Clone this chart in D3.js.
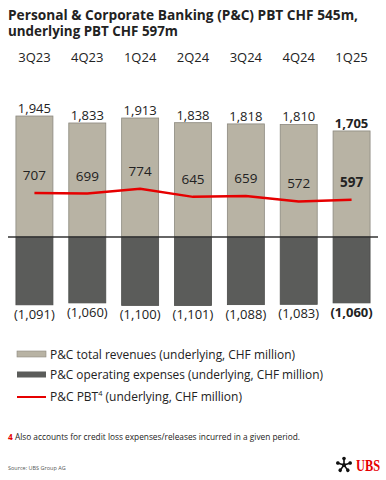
<!DOCTYPE html>
<html>
<head>
<meta charset="utf-8">
<script src="https://cdn.jsdelivr.net/npm/d3@7"></script>
<style>
  body { margin: 0; background: #fff; }
  text { font-family: "Open Sans", sans-serif; fill: #222; }
</style>
</head>
<body>
<div id="chart-area"></div>
<script>
// Data
var quarters = ["3Q23", "4Q23", "1Q24", "2Q24", "3Q24", "4Q24", "1Q25"];
var revenues = [1945, 1833, 1913, 1838, 1818, 1810, 1705];
var expenses = [-1091, -1060, -1100, -1101, -1088, -1083, -1060];
var pbt = [707, 699, 774, 645, 659, 572, 597];

var width = 386;
var height = 480;
var fmt = d3.format(",");

var svg = d3.select("#chart-area")
    .append("svg")
    .attr("width", width)
    .attr("height", height);

// SCALES
var x = d3.scaleBand()
    .domain(quarters)
    .range([8, 378])
    .paddingInner(0.3)
    .paddingOuter(0.15);

var y = d3.scaleLinear()
    .domain([-1200, 2000])
    .range([311.6, 112.6]);

//---TITLE
svg.append("text")
    .attr("x", 8).attr("y", 20)
    .attr("font-size", "14.5px").attr("font-weight", "bold")
    .attr("textLength", 350).attr("lengthAdjust", "spacingAndGlyphs")
    .text("Personal & Corporate Banking (P&C) PBT CHF 545m,");
svg.append("text")
    .attr("x", 8).attr("y", 36)
    .attr("font-size", "14.5px").attr("font-weight", "bold")
    .attr("textLength", 170).attr("lengthAdjust", "spacingAndGlyphs")
    .text("underlying PBT CHF 597m");

// quarter labels on top
svg.append("g")
    .selectAll("text").data(quarters).enter()
    .append("text")
    .attr("x", (d) => x(d) + x.bandwidth() / 2)
    .attr("y", 62)
    .attr("text-anchor", "middle")
    .attr("font-size", "13px")
    .text((d) => d);

// revenue bars
svg.append("g")
    .selectAll("rect").data(revenues).enter()
    .append("rect")
    .attr("x", (d, i) => x(quarters[i]))
    .attr("y", (d) => y(d))
    .attr("width", x.bandwidth())
    .attr("height", (d) => y(0) - y(d))
    .attr("fill", "#b8b3a4")
    .attr("stroke", "#8c897f")
    .attr("stroke-width", 0.8);

// expense bars
svg.append("g")
    .selectAll("rect").data(expenses).enter()
    .append("rect")
    .attr("x", (d, i) => x(quarters[i]))
    .attr("y", y(0))
    .attr("width", x.bandwidth())
    .attr("height", (d) => y(d) - y(0))
    .attr("fill", "#5b5c5a")
    .attr("stroke", "#4a4b49")
    .attr("stroke-width", 0.8);

// zero line
svg.append("line")
    .attr("x1", 8).attr("x2", 378)
    .attr("y1", y(0)).attr("y2", y(0))
    .attr("stroke", "#333").attr("stroke-width", 1.3);

// PBT line
var line = d3.line()
    .x((d, i) => x(quarters[i]) + x.bandwidth() / 2)
    .y((d) => y(d));
svg.append("path")
    .datum(pbt)
    .attr("d", line)
    .attr("fill", "none")
    .attr("stroke", "#e60000")
    .attr("stroke-width", 2.5);

var last = quarters.length - 1;

// revenue labels
svg.append("g")
    .selectAll("text").data(revenues).enter()
    .append("text")
    .attr("x", (d, i) => x(quarters[i]) + x.bandwidth() / 2)
    .attr("y", (d) => y(d) - 3)
    .attr("text-anchor", "middle")
    .attr("font-size", "13px")
    .attr("font-weight", (d, i) => i == last ? "bold" : "normal")
    .text((d) => fmt(d));

// pbt labels
svg.append("g")
    .selectAll("text").data(pbt).enter()
    .append("text")
    .attr("x", (d, i) => x(quarters[i]) + x.bandwidth() / 2)
    .attr("y", (d) => y(d) - 13)
    .attr("text-anchor", "middle")
    .attr("font-size", "13.5px")
    .attr("font-weight", (d, i) => i == last ? "bold" : "normal")
    .text((d) => fmt(d));

// expense labels
svg.append("g")
    .selectAll("text").data(expenses).enter()
    .append("text")
    .attr("x", (d, i) => x(quarters[i]) + x.bandwidth() / 2)
    .attr("y", (d) => y(d) + 14)
    .attr("text-anchor", "middle")
    .attr("font-size", "13px")
    .attr("font-weight", (d, i) => i == last ? "bold" : "normal")
    .text((d) => "(" + fmt(-d) + ")");

//---LEGEND
var legend = svg.append("g");
legend.append("rect").attr("x", 17).attr("y", 351).attr("width", 29).attr("height", 6)
    .attr("fill", "#b8b3a4").attr("stroke", "#8c897f").attr("stroke-width", 0.6);
legend.append("rect").attr("x", 17).attr("y", 371.5).attr("width", 29).attr("height", 6)
    .attr("fill", "#5b5c5a");
legend.append("line").attr("x1", 17).attr("x2", 46).attr("y1", 397).attr("y2", 397)
    .attr("stroke", "#e60000").attr("stroke-width", 2);

legend.append("text").attr("x", 50).attr("y", 358.5).attr("font-size", "13px")
    .attr("textLength", 245).attr("lengthAdjust", "spacingAndGlyphs")
    .text("P&C total revenues (underlying, CHF million)");
legend.append("text").attr("x", 50).attr("y", 379).attr("font-size", "13px")
    .attr("textLength", 273).attr("lengthAdjust", "spacingAndGlyphs")
    .text("P&C operating expenses (underlying, CHF million)");
var t3 = legend.append("text").attr("x", 50).attr("y", 401).attr("font-size", "13px")
    .attr("textLength", 192).attr("lengthAdjust", "spacingAndGlyphs");
t3.append("tspan").text("P&C PBT");
t3.append("tspan").attr("font-size", "8px").attr("dy", -5).text("4");
t3.append("tspan").attr("dy", 5).text(" (underlying, CHF million)");

// footnote
var fn = svg.append("text").attr("x", 8).attr("y", 440).attr("font-size", "9px")
    .attr("textLength", 292).attr("lengthAdjust", "spacingAndGlyphs");
fn.append("tspan").attr("fill", "#e60000").attr("font-weight", "bold").text("4");
fn.append("tspan").text(" Also accounts for credit loss expenses/releases incurred in a given period.");

svg.append("text").attr("x", 8).attr("y", 470).attr("font-size", "5.5px")
    .style("fill", "#555")
    .text("Source: UBS Group AG");

// logo
var logo = svg.append("g").attr("transform", "translate(344, 465)");
[0, 72, 144, 216, 288].forEach((a) => {
    var k = logo.append("g").attr("transform", "rotate(" + a + ")");
    k.append("line").attr("x1", 0).attr("y1", 0).attr("x2", 0).attr("y2", -6)
        .attr("stroke", "#111").attr("stroke-width", 1.6);
    k.append("circle").attr("cx", 0).attr("cy", -6.5).attr("r", 1.8)
        .attr("fill", "#111");
});
logo.append("circle").attr("r", 2).attr("fill", "#111");
svg.append("text").attr("x", 356).attr("y", 471)
    .style("font-family", "'Liberation Serif', 'DejaVu Serif', serif")
    .attr("font-weight", "bold").attr("font-size", "16px")
    .style("fill", "#e60000")
    .attr("textLength", 24).attr("lengthAdjust", "spacingAndGlyphs")
    .text("UBS");
</script>
</body>
</html>
